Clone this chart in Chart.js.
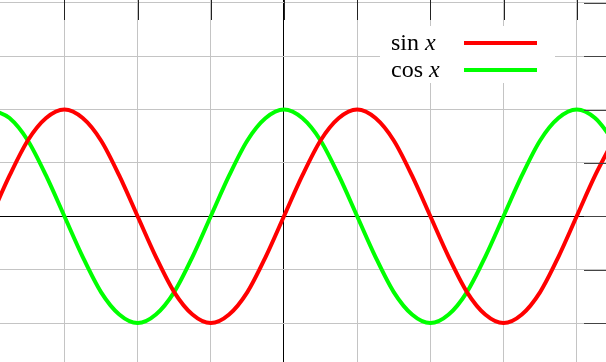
<!DOCTYPE html>
<html>
<head>
<meta charset="utf-8">
<script src="https://cdn.jsdelivr.net/npm/chart.js@4/dist/chart.umd.min.js"></script>
<style>
  body { margin: 0; background: #fff; }
  canvas { display: block; }
</style>
</head>
<body>
<canvas id="trigChart" width="606" height="362"></canvas>
<script>
// x positions in eighths of pi
const xEighths = [-16, -15, -14, -13, -12, -11, -10, -9, -8, -7, -6, -5, -4, -3, -2, -1, 0,
                  1, 2, 3, 4, 5, 6, 7, 8, 9, 10, 11, 12, 13, 14, 15, 16, 17, 18];
const sinValues = [0, 0.38, 0.71, 0.92, 1, 0.92, 0.71, 0.38, 0, -0.38, -0.71, -0.92, -1, -0.92, -0.71, -0.38, 0,
                   0.38, 0.71, 0.92, 1, 0.92, 0.71, 0.38, 0, -0.38, -0.71, -0.92, -1, -0.92, -0.71, -0.38, 0, 0.38, 0.71];
const cosValues = [1, 0.92, 0.71, 0.38, 0, -0.38, -0.71, -0.92, -1, -0.92, -0.71, -0.38, 0, 0.38, 0.71, 0.92, 1,
                   0.92, 0.71, 0.38, 0, -0.38, -0.71, -0.92, -1, -0.92, -0.71, -0.38, 0, 0.38, 0.71, 0.92, 1, 0.92, 0.71];
const seriesLabels = ['sin x', 'cos x'];
const seriesColors = ['#ff0000', '#00ff00'];

function toPoints(values) {
    return xEighths.map((x, i) => ({ x: x, y: values[i] }));
}

// short tick marks along the top and right edges
const edgeTicks = {
    id: 'edgeTicks',
    afterDraw(chart) {
        const { ctx, chartArea, scales } = chart;
        ctx.save();
        ctx.lineWidth = 1;
        ctx.strokeStyle = '#222';
        ctx.beginPath();
        scales.x.ticks.forEach(t => {
            const px = Math.round(scales.x.getPixelForValue(t.value)) + 0.5;
            ctx.moveTo(px, chartArea.top);
            ctx.lineTo(px, chartArea.top + 20);
        });
        ctx.stroke();
        ctx.strokeStyle = '#444';
        ctx.beginPath();
        scales.y.ticks.forEach(t => {
            const py = Math.round(scales.y.getPixelForValue(t.value)) + 0.5;
            ctx.moveTo(chartArea.right - 22, py);
            ctx.lineTo(chartArea.right, py);
        });
        ctx.stroke();
        ctx.restore();
    }
};

// legend: label text on the left, line sample on the right
const sideLegend = {
    id: 'sideLegend',
    afterDraw(chart) {
        const ctx = chart.ctx;
        ctx.save();
        ctx.fillStyle = '#fff';
        ctx.fillRect(380, 26, 175, 57);
        ctx.textBaseline = 'alphabetic';
        chart.data.datasets.forEach((ds, i) => {
            const y = 50 + i * 27;
            const parts = ds.label.split(' ');
            ctx.fillStyle = '#000';
            ctx.font = '24px "Liberation Serif", "DejaVu Serif", serif';
            ctx.fillText(parts[0] + ' ', 391, y);
            const w = ctx.measureText(parts[0] + ' ').width;
            ctx.font = 'italic 24px "Liberation Serif", "DejaVu Serif", serif';
            ctx.fillText(parts[1], 391 + w, y);
            ctx.strokeStyle = ds.borderColor;
            ctx.lineWidth = 4;
            ctx.beginPath();
            ctx.moveTo(464, y - 7);
            ctx.lineTo(537, y - 7);
            ctx.stroke();
        });
        ctx.restore();
    }
};

function gridColor(c) {
    return c.tick && c.tick.value === 0 ? '#000' : '#c4c4c4';
}

document.addEventListener('DOMContentLoaded', () => {
    const ctx = document.getElementById('trigChart').getContext('2d');
    new Chart(ctx, {
        type: 'line',
        data: {
            datasets: [
                { label: seriesLabels[0], data: toPoints(sinValues), borderColor: seriesColors[0] },
                { label: seriesLabels[1], data: toPoints(cosValues), borderColor: seriesColors[1] }
            ]
        },
        options: {
            responsive: false,
            animation: false,
            layout: { padding: 0 },
            elements: {
                point: { radius: 0 },
                line: { borderWidth: 4, cubicInterpolationMode: 'monotone', fill: false }
            },
            plugins: {
                legend: { display: false },
                tooltip: { enabled: false }
            },
            scales: {
                x: {
                    type: 'linear',
                    min: -15.52,
                    max: 17.6,
                    border: { display: false },
                    grid: { color: gridColor, drawTicks: false, lineWidth: 1 },
                    ticks: { display: false, stepSize: 4, includeBounds: false }
                },
                y: {
                    type: 'linear',
                    min: -1.365,
                    max: 2.026,
                    border: { display: false },
                    grid: { color: gridColor, drawTicks: false, lineWidth: 1 },
                    ticks: { display: false, stepSize: 0.5, includeBounds: false }
                }
            }
        },
        plugins: [edgeTicks, sideLegend]
    });
});
</script>
</body>
</html>
